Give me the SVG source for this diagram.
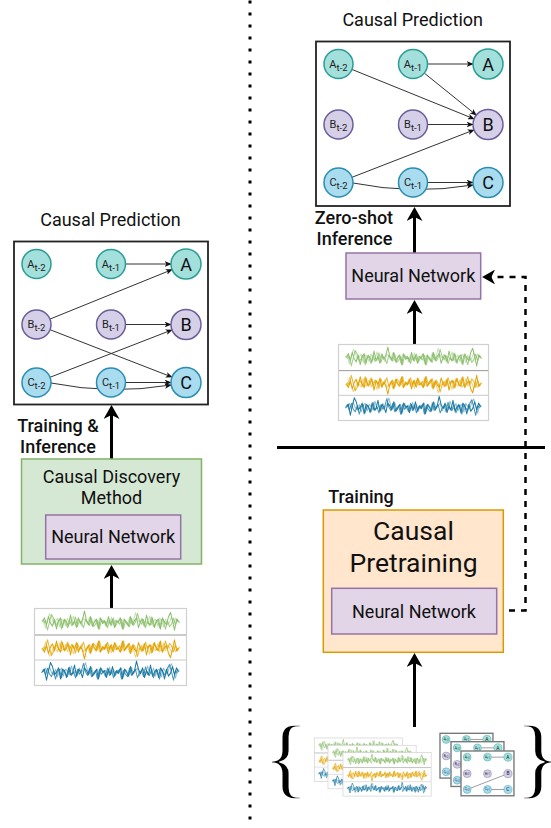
<svg xmlns="http://www.w3.org/2000/svg" xmlns:xlink="http://www.w3.org/1999/xlink" width="551" height="828" viewBox="0 0 551 828">
<style>
text{font-family:Roboto,"Liberation Sans",sans-serif;fill:#111}
.t18{font-size:18px}
.mid{text-anchor:middle}
.lbl{font-size:18px;font-weight:500;text-anchor:middle}
.na circle{fill:#a3e0dc;stroke:#2a9d95;stroke-width:1.5}
.nb circle{fill:#d5d0e8;stroke:#6a5d98;stroke-width:1.5}
.nc circle{fill:#a9dcef;stroke:#2b8db0;stroke-width:1.5}
.nd text{font-size:11px;text-anchor:middle;fill:#222}
.sub{font-size:9.5px}
.nd text.big{font-size:18px;fill:#111}
.gbox{fill:#fff;stroke:#222;stroke-width:1.8}
.edge{fill:none;stroke:#333;stroke-width:1;marker-end:url(#sh)}
.big-arrow{fill:none;stroke:#000;stroke-width:3;marker-end:url(#bh)}
.nz{fill:none;stroke-width:1;stroke-linejoin:round}
.nn{fill:#e1d5e7;stroke:#9673a6;stroke-width:1.5}
.brace{font-family:"Liberation Serif","Times New Roman",serif;font-size:88px;fill:#000;stroke:#fff;stroke-width:1.6;paint-order:fill}
</style>
<defs>
<marker id="sh" viewBox="0 0 10 8" markerUnits="userSpaceOnUse" markerWidth="7" markerHeight="5.6" refX="9" refY="4" orient="auto"><path d="M0,0 L10,4 L0,8 L2.5,4 Z" fill="#111"/></marker>
<marker id="bh" viewBox="0 0 14 16" markerUnits="userSpaceOnUse" markerWidth="14" markerHeight="16" refX="6" refY="8" orient="auto"><path d="M0,0 L14,8 L0,16 L4,8 Z" fill="#000"/></marker>
<marker id="dh" viewBox="0 0 14 16" markerUnits="userSpaceOnUse" markerWidth="13" markerHeight="14.8" refX="6" refY="8" orient="auto"><path d="M0,0 L14,8 L0,16 L4,8 Z" fill="#000"/></marker>
<path id="nz" class="nz" d="M0,0 L2,-3 4,2 6,-4 8,1 10,3 12,-2 14,5 16,-1 18,-3 20,4 22,-2 24,0 26,3 28,-5 30,2 32,-1 34,4 36,-3 38,1 40,-2 42,-8 44,-1 46,2 48,-4 50,3 52,0 54,-2 56,5 58,-3 60,1 62,-1 64,3 66,-4 68,2 70,-2 72,4 74,-1 76,0 78,-3 80,5 82,-2 84,1 86,3 88,-4 90,2 92,-1 94,-3 96,4 98,0 100,-2 102,3 104,-5 106,1 108,2 110,-3 112,4 114,-1 116,-2 118,5 120,-3 122,0 124,2 126,-4 128,-7 130,-1 132,6 134,-2 136,0"/>
<g id="wave"><use href="#nz" transform="scale(1,1.35)"/><use href="#nz" transform="translate(137,1) scale(-1,1.2)" opacity="0.8"/><use href="#nz" transform="translate(68,0) scale(-1,1.1) translate(-68,0) translate(1,-0.5)" opacity="0.5"/></g>
<g id="tsbox">
<rect x="0.5" y="0.5" width="152" height="77" fill="#fff" stroke="#d0d0d0" stroke-width="1.2"/>
<line x1="1" y1="27" x2="152" y2="27" stroke="#8a8a8a" stroke-width="0.9"/>
<line x1="1" y1="52" x2="152" y2="52" stroke="#c4c4c4" stroke-width="0.9"/>
<use href="#wave" stroke="#8cbf6d" transform="translate(8.5,14)"/>
<use href="#wave" stroke="#e3a300" transform="translate(8.5,40) scale(1,-1)"/>
<use href="#wave" stroke="#1b79a3" transform="translate(144.5,64) scale(-1,1)"/>
</g>
<g id="mg">
<rect x="0" y="0" width="194" height="164" fill="#fff" stroke="#777" stroke-width="5"/>
<path d="M111.5,22.5 H157 M36,135.8 L158,88.4 M111.5,141 H157" fill="none" stroke="#888" stroke-width="3"/>
<g class="nd na"><circle cx="22.5" cy="22.5" r="14.5"/><circle cx="97" cy="22.5" r="14.5"/><circle cx="172" cy="22.5" r="15"/>
<text x="22.5" y="26">A<tspan class="sub" dy="3">t-2</tspan></text><text x="97" y="26">A<tspan class="sub" dy="3">t-1</tspan></text><text class="big" x="172" y="29">A</text></g>
<g class="nd nb"><circle cx="22.5" cy="83" r="14.5"/><circle cx="97" cy="83" r="14.5"/><circle cx="172" cy="83" r="15"/>
<text x="22.5" y="86.5">B<tspan class="sub" dy="3">t-2</tspan></text><text x="97" y="86.5">B<tspan class="sub" dy="3">t-1</tspan></text><text class="big" x="172" y="89.5">B</text></g>
<g class="nd nc"><circle cx="22.5" cy="141" r="14.5"/><circle cx="97" cy="141" r="14.5"/><circle cx="172" cy="141" r="15"/>
<text x="22.5" y="144.5">C<tspan class="sub" dy="3">t-2</tspan></text><text x="97" y="144.5">C<tspan class="sub" dy="3">t-1</tspan></text><text class="big" x="172" y="147.5">C</text></g>
</g>
</defs>
<rect width="551" height="828" fill="#fff"/>

<!-- separators -->
<line x1="250" y1="0.5" x2="250" y2="828" stroke="#000" stroke-width="3" stroke-dasharray="3 9"/>
<line x1="277" y1="447.5" x2="545" y2="447.5" stroke="#000" stroke-width="3"/>

<!-- titles and graph frames -->
<text class="t18 mid" x="110.5" y="226">Causal Prediction</text>
<rect id="left-graph-box" class="gbox" x="14" y="241.5" width="194" height="163"/>
<text class="t18 mid" x="412.7" y="26">Causal Prediction</text>
<rect id="right-graph-box" class="gbox" x="316" y="41.5" width="194" height="164.5"/>

<g id="connectors">
<!-- left graph edges -->
<path class="edge" d="M125.5,264 H171"/>
<path class="edge" d="M49.9,319.1 L172.1,269.6"/>
<path class="edge" d="M125.5,324.5 H171"/>
<path class="edge" d="M50,377.3 L172,329.9"/>
<path class="edge" d="M50,329.7 L172,377.1"/>
<path class="edge" d="M125.5,382.5 H171"/>
<path class="edge" d="M51,383 Q111,395 171,385"/>
<!-- right graph edges -->
<path class="edge" d="M427.5,64 H473"/>
<path class="edge" d="M351.9,69.4 L474.1,118.9"/>
<path class="edge" d="M424.3,73.1 L476.3,115.1"/>
<path class="edge" d="M427.5,124.5 H473"/>
<path class="edge" d="M352,177.3 L474,129.9"/>
<path class="edge" d="M427.5,182.5 H473"/>
<path class="edge" d="M353,183 Q413,195 473,185"/>
<!-- big arrows -->
<path class="big-arrow" d="M111.5,459 V413"/>
<path class="big-arrow" d="M111.5,608 V573"/>
<path class="big-arrow" d="M414.5,253 V215"/>
<path class="big-arrow" d="M414.5,344 V308"/>
<path class="big-arrow" d="M414.5,727 V661"/>
<!-- dashed weight transfer -->
<path d="M497,610.5 H525.5 V277 H489.5" fill="none" stroke="#000" stroke-width="2.5" stroke-dasharray="6 6" marker-end="url(#dh)"/>
</g>

<!-- left graph nodes -->
<g id="L-At2" class="nd na"><circle cx="36.5" cy="264" r="14.5"/><text x="36.5" y="267.5">A<tspan class="sub" dy="3">t-2</tspan></text></g>
<g id="L-At1" class="nd na"><circle cx="111" cy="264" r="14.5"/><text x="111" y="267.5">A<tspan class="sub" dy="3">t-1</tspan></text></g>
<g id="L-A" class="nd na"><circle cx="186" cy="264" r="15"/><text class="big" x="186" y="270.5">A</text></g>
<g id="L-Bt2" class="nd nb"><circle cx="36.5" cy="324.5" r="14.5"/><text x="36.5" y="328">B<tspan class="sub" dy="3">t-2</tspan></text></g>
<g id="L-Bt1" class="nd nb"><circle cx="111" cy="324.5" r="14.5"/><text x="111" y="328">B<tspan class="sub" dy="3">t-1</tspan></text></g>
<g id="L-B" class="nd nb"><circle cx="186" cy="324.5" r="15"/><text class="big" x="186" y="331">B</text></g>
<g id="L-Ct2" class="nd nc"><circle cx="36.5" cy="382.5" r="14.5"/><text x="36.5" y="386">C<tspan class="sub" dy="3">t-2</tspan></text></g>
<g id="L-Ct1" class="nd nc"><circle cx="111" cy="382.5" r="14.5"/><text x="111" y="386">C<tspan class="sub" dy="3">t-1</tspan></text></g>
<g id="L-C" class="nd nc"><circle cx="186" cy="382.5" r="15"/><text class="big" x="186" y="389">C</text></g>

<g id="label-train-inf">
<text class="lbl" x="58" y="431.5">Training &amp;</text>
<text class="lbl" x="58" y="452.5">Inference</text>
</g>

<g id="causal-discovery">
<rect x="21.5" y="459" width="180" height="105" fill="#d5e8d4" stroke="#82b366" stroke-width="1.5"/>
<text class="t18 mid" x="111.5" y="483">Causal Discovery</text>
<text class="t18 mid" x="111.5" y="504">Method</text>
</g>
<g id="left-nn">
<rect class="nn" x="45.7" y="515" width="135" height="44"/>
<text class="t18 mid" x="113.2" y="543">Neural Network</text>
</g>
<g id="left-ts"><use href="#tsbox" transform="translate(34,608)"/></g>

<!-- right graph nodes -->
<g id="R-At2" class="nd na"><circle cx="338.5" cy="64" r="14.5"/><text x="338.5" y="67.5">A<tspan class="sub" dy="3">t-2</tspan></text></g>
<g id="R-At1" class="nd na"><circle cx="413" cy="64" r="14.5"/><text x="413" y="67.5">A<tspan class="sub" dy="3">t-1</tspan></text></g>
<g id="R-A" class="nd na"><circle cx="488" cy="64" r="15"/><text class="big" x="488" y="70.5">A</text></g>
<g id="R-Bt2" class="nd nb"><circle cx="338.5" cy="124.5" r="14.5"/><text x="338.5" y="128">B<tspan class="sub" dy="3">t-2</tspan></text></g>
<g id="R-Bt1" class="nd nb"><circle cx="413" cy="124.5" r="14.5"/><text x="413" y="128">B<tspan class="sub" dy="3">t-1</tspan></text></g>
<g id="R-B" class="nd nb"><circle cx="488" cy="124.5" r="15"/><text class="big" x="488" y="131">B</text></g>
<g id="R-Ct2" class="nd nc"><circle cx="338.5" cy="182.5" r="14.5"/><text x="338.5" y="186">C<tspan class="sub" dy="3">t-2</tspan></text></g>
<g id="R-Ct1" class="nd nc"><circle cx="413" cy="182.5" r="14.5"/><text x="413" y="186">C<tspan class="sub" dy="3">t-1</tspan></text></g>
<g id="R-C" class="nd nc"><circle cx="488" cy="182.5" r="15"/><text class="big" x="488" y="189">C</text></g>

<g id="label-zero-shot">
<text class="lbl" x="354" y="224">Zero-shot</text>
<text class="lbl" x="354.5" y="245">Inference</text>
</g>
<g id="right-nn">
<rect class="nn" x="346" y="253" width="134.7" height="46"/>
<text class="t18 mid" x="413.3" y="282">Neural Network</text>
</g>
<g id="right-ts"><use href="#tsbox" transform="translate(338,344) scale(0.987)"/></g>

<g id="label-training"><text class="lbl" x="361" y="503">Training</text></g>
<g id="causal-pretraining">
<rect x="323.3" y="510" width="180" height="142.3" fill="#ffe6cc" stroke="#d79b00" stroke-width="1.5"/>
<text class="mid" x="413.5" y="540" style="font-size:26.5px">Causal</text>
<text class="mid" x="413.5" y="572" style="font-size:26.5px">Pretraining</text>
</g>
<g id="pretrain-nn">
<rect class="nn" x="331.7" y="588.3" width="165" height="45.7"/>
<text class="t18 mid" x="414" y="618">Neural Network</text>
</g>

<g id="pretraining-data">
<text class="brace" transform="translate(279,0) scale(1.12,1)" x="-15" y="787.5">{</text>
<use href="#tsbox" transform="translate(314,737.7) scale(0.58,0.565)"/>
<use href="#tsbox" transform="translate(327.7,745) scale(0.58,0.565)"/>
<use href="#tsbox" transform="translate(342.7,752.3) scale(0.58,0.565)"/>
<use href="#mg" transform="translate(440,733.3) scale(0.273)"/>
<use href="#mg" transform="translate(451,741.7) scale(0.273)"/>
<use href="#mg" transform="translate(461,751) scale(0.273)"/>
<text class="brace" transform="translate(526,0) scale(1.12,1)" x="-10.6" y="787.5">}</text>
</g>
</svg>
